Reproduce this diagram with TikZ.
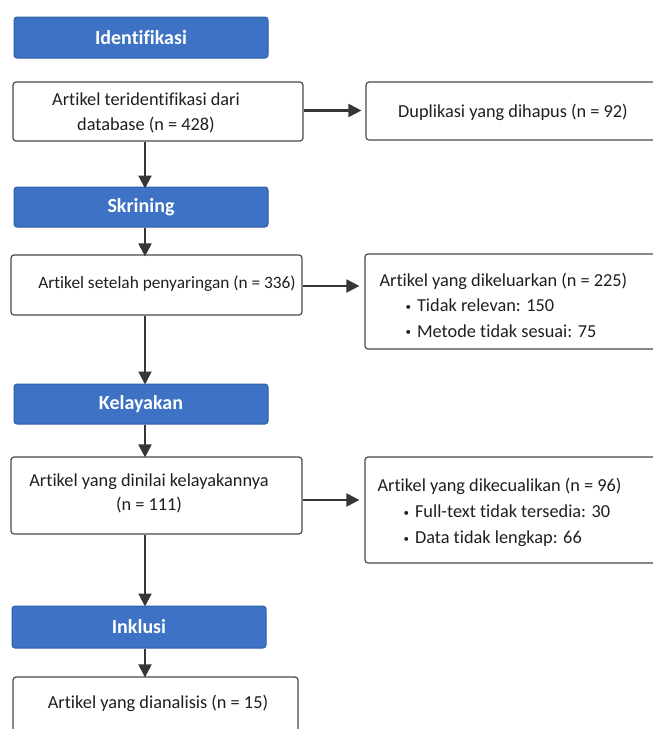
\documentclass[tikz,border=0pt]{standalone}
\usepackage{fontspec}
\setmainfont{Carlito}[Ligatures=NoCommon]
\usetikzlibrary{arrows.meta}
\definecolor{hdr}{HTML}{3D72C4}
\definecolor{hdrb}{HTML}{2E5EA6}
\definecolor{ln}{HTML}{363636}
\definecolor{bx}{HTML}{4A4A4A}
\newcommand{\blt}{{\fontsize{11}{11}\selectfont\raisebox{1.5pt}{•}}\hspace{6pt}}
\begin{document}
\begin{tikzpicture}[x=1pt,y=-1pt,
 hdrbox/.style={draw=hdrb, fill=hdr, rounded corners=3pt, line width=1pt, text=white,
   font=\fontsize{20}{22}\selectfont\bfseries, minimum width=254pt, minimum height=41pt, inner sep=0pt},
 wbox/.style={draw=bx, fill=white, rounded corners=3pt, line width=1.2pt, inner sep=0pt},
 txt/.style={font=\fontsize{18.3}{24.5}\selectfont, align=center, inner sep=0pt, text=black!88},
 ltxt/.style={font=\fontsize{18.3}{25.5}\selectfont, align=left, inner sep=0pt, text=black!88, anchor=west},
 arr/.style={draw=ln, line width=2.1pt, -{Triangle[length=13pt,width=13pt]}},
]
\useasboundingbox (0,0) rectangle (653,729);
\coordinate (ax) at (145,0);
% headers
\node[hdrbox] (h1) at (141,37.5) {Identifikasi};
\node[hdrbox, minimum height=40pt] (h2) at (141,207) {Skrining};
\node[hdrbox, minimum height=40pt] (h3) at (141,404) {Kelayakan};
\node[hdrbox, minimum height=42pt] (h4) at (139,627) {Inklusi};
% left boxes
\node[wbox, minimum width=290pt, minimum height=59pt] (b1) at (158,111.5) {};
\node[txt] (t1) at (146,113) {Artikel teridentifikasi dari\\database (n = 428)};
\node[wbox, minimum width=291pt, minimum height=60pt] (b2) at (156.5,285) {};
\node[txt, font=\fontsize{17.3}{24}\selectfont] (t2) at (167,284) {Artikel setelah penyaringan (n = 336)};
\node[wbox, minimum width=291pt, minimum height=77pt] (b3) at (156.5,495.5) {};
\node[txt] (t3) at (149,493.5) {Artikel yang dinilai kelayakannya\\(n = 111)};
\node[wbox, minimum width=285pt, minimum height=66pt] (b4) at (155.5,710) {};
\node[txt] (t4) at (158,703) {Artikel yang dianalisis (n = 15)};
% right boxes
\node[wbox, minimum width=294pt, minimum height=58pt] (d1) at (513,111) {};
\node[txt] (td1) at (513,112) {Duplikasi yang dihapus (n = 92)};
\node[wbox, minimum width=295pt, minimum height=95pt] (e1) at (512.5,301.5) {};
\node[ltxt] (te1) at ([xshift=15pt,yshift=-3.5pt]e1.west) {Artikel yang dikeluarkan (n = 225)\\\hspace{26pt}\blt Tidak relevan: 150\\\hspace{26pt}\blt Metode tidak sesuai: 75};
\node[wbox, minimum width=295pt, minimum height=106pt] (e2) at (512.5,510) {};
\node[ltxt, font=\fontsize{18.3}{26.2}\selectfont] (te2) at ([xshift=13pt,yshift=-2.5pt]e2.west) {Artikel yang dikecualikan (n = 96)\\\hspace{26pt}\blt Full-text tidak tersedia: 30\\\hspace{26pt}\blt Data tidak lengkap: 66};
% vertical arrows
\draw[arr] (b1.south -| ax) -- ([yshift=-2pt]h2.north -| ax);
\draw[arr] (h2.south -| ax) -- ([yshift=-2pt]b2.north -| ax);
\draw[arr] (b2.south -| ax) -- ([yshift=-1pt]h3.north -| ax);
\draw[arr] (h3.south -| ax) -- ([yshift=-1pt]b3.north -| ax);
\draw[arr] (b3.south -| ax) -- ([yshift=-1pt]h4.north -| ax);
\draw[arr] (h4.south -| ax) -- ([yshift=-1pt]b4.north -| ax);
% horizontal arrows
\draw[arr, shorten >=4pt] ([yshift=1pt]b1.east) -- ([yshift=1pt]b1.east -| d1.west);
\draw[arr, shorten >=5pt] ([yshift=-1pt]b2.east) -- ([yshift=-1pt]b2.east -| e1.west);
\draw[arr, shorten >=5pt] ([yshift=-4.5pt]b3.east) -- ([yshift=-4.5pt]b3.east -| e2.west);
\end{tikzpicture}
\end{document}
